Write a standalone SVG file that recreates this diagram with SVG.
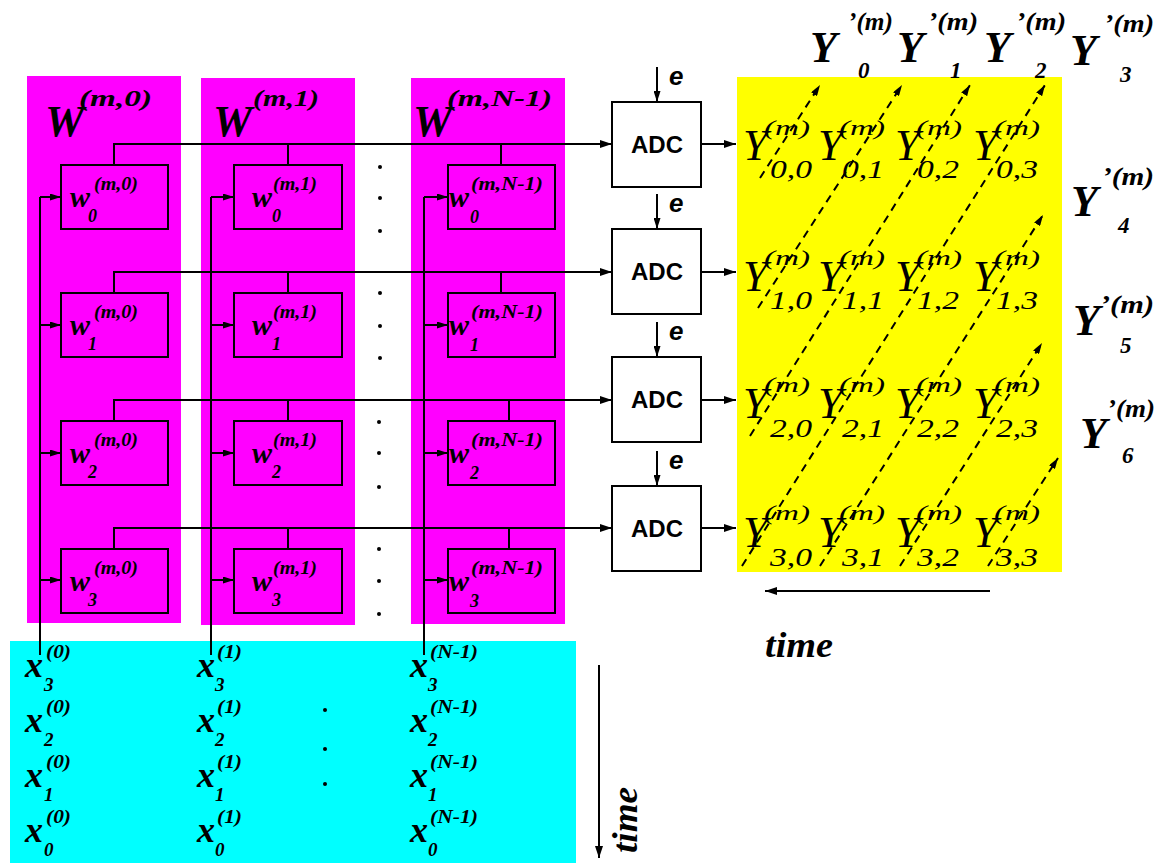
<svg xmlns="http://www.w3.org/2000/svg" width="1161" height="863" viewBox="0 0 1161 863">
<style>
.bi{font-family:"Liberation Serif",serif;font-weight:bold;font-style:italic;fill:#000}
.it{font-family:"Liberation Serif",serif;font-style:italic;fill:#000}
.sb{font-family:"Liberation Sans",sans-serif;font-weight:bold;fill:#000}
.sbi{font-family:"Liberation Sans",sans-serif;font-weight:bold;font-style:italic;fill:#000}
.panel{fill:#ff00ff}
.box{fill:#ff00ff;stroke:#000;stroke-width:2}
.adc{fill:#fff;stroke:#000;stroke-width:2}
.ln{fill:none;stroke:#000;stroke-width:2}
.dash{fill:none;stroke:#000;stroke-width:2;stroke-dasharray:8,6}
.dot{fill:#000}
.yb{font-size:44px}
.ysup{font-size:22px}
.ysub{font-size:26px}
.xb{font-size:36px}
.xsup{font-size:18px}
.xsub{font-size:19px}
.wb{font-size:30px}
.wsup{font-size:19px}
.wsub{font-size:18px}
.ypb{font-size:44px}
.ypsup{font-size:25px}
.ypsub{font-size:23px}
</style>
<defs>
<marker id="ah" markerWidth="12" markerHeight="8" refX="12" refY="4" orient="auto" markerUnits="userSpaceOnUse"><path d="M0,0 L12,4 L0,8 z" fill="#000"/></marker>
<marker id="as" markerWidth="11" markerHeight="7" refX="11" refY="3.5" orient="auto" markerUnits="userSpaceOnUse"><path d="M0,0 L11,3.5 L0,7 z" fill="#000"/></marker>
</defs>
<rect width="1161" height="863" fill="#fff"/>

<g id="backgrounds">
<rect id="panel0" class="panel" x="27" y="76" width="154" height="547"/>
<rect id="panel1" class="panel" x="201" y="78" width="154" height="547"/>
<rect id="panel2" class="panel" x="411" y="78" width="154" height="546"/>
<rect id="inputs-bg" x="10" y="641" width="566" height="222" fill="#00ffff"/>
<rect id="outputs-bg" x="737" y="77" width="325" height="495" fill="#ffff00"/>
</g>

<g id="panel-labels">
<g id="W0"><text class="bi" x="45" y="136" font-size="44">W</text><text class="bi" x="79" y="106" font-size="24" textLength="73" lengthAdjust="spacingAndGlyphs">(m,0)</text></g>
<g id="W1"><text class="bi" x="213" y="136" font-size="44">W</text><text class="bi" x="253" y="106" font-size="24" textLength="66" lengthAdjust="spacingAndGlyphs">(m,1)</text></g>
<g id="W2"><text class="bi" x="413" y="136" font-size="44">W</text><text class="bi" x="447" y="106" font-size="24" textLength="105" lengthAdjust="spacingAndGlyphs">(m,N-1)</text></g>
</g>

<g id="connectors">
<path class="ln" d="M114,165 V144 H612" marker-end="url(#ah)"/>
<path class="ln" d="M288,165 V144 M501,165 V144"/>
<path class="ln" d="M114,293 V272 H612" marker-end="url(#ah)"/>
<path class="ln" d="M288,293 V272 M501,293 V272"/>
<path class="ln" d="M114,421 V400 H612" marker-end="url(#ah)"/>
<path class="ln" d="M288,421 V400 M509,421 V400"/>
<path class="ln" d="M114,549 V528 H612" marker-end="url(#ah)"/>
<path class="ln" d="M288,549 V528 M509,549 V528"/>
<path class="ln" d="M40,655 V197"/>
<path class="ln" d="M211,655 V197"/>
<path class="ln" d="M424,655 V197"/>
<path class="ln" d="M40,197 H61" marker-end="url(#as)"/>
<path class="ln" d="M40,325 H61" marker-end="url(#as)"/>
<path class="ln" d="M40,453 H61" marker-end="url(#as)"/>
<path class="ln" d="M40,580 H61" marker-end="url(#as)"/>
<path class="ln" d="M211,197 H234" marker-end="url(#as)"/>
<path class="ln" d="M211,325 H234" marker-end="url(#as)"/>
<path class="ln" d="M211,453 H234" marker-end="url(#as)"/>
<path class="ln" d="M211,580 H234" marker-end="url(#as)"/>
<path class="ln" d="M424,197 H448" marker-end="url(#as)"/>
<path class="ln" d="M424,325 H448" marker-end="url(#as)"/>
<path class="ln" d="M424,453 H448" marker-end="url(#as)"/>
<path class="ln" d="M424,580 H448" marker-end="url(#as)"/>
<path class="ln" d="M701,144 H736" marker-end="url(#ah)"/>
<path class="ln" d="M701,272 H736" marker-end="url(#ah)"/>
<path class="ln" d="M701,400 H736" marker-end="url(#ah)"/>
<path class="ln" d="M701,528 H736" marker-end="url(#ah)"/>
<path class="ln" d="M657,67 V102" marker-end="url(#as)"/>
<path class="ln" d="M657,194 V229" marker-end="url(#as)"/>
<path class="ln" d="M657,322 V357" marker-end="url(#as)"/>
<path class="ln" d="M657,451 V486" marker-end="url(#as)"/>
<path class="dash" d="M760,178 L820,85" marker-end="url(#as)"/>
<path class="dash" d="M758,308 L902,85" marker-end="url(#as)"/>
<path class="dash" d="M750,436 L970,85" marker-end="url(#as)"/>
<path class="dash" d="M742,566 L1045,85" marker-end="url(#as)"/>
<path class="dash" d="M820,566 L1043,215" marker-end="url(#as)"/>
<path class="dash" d="M900,566 L1042,343" marker-end="url(#as)"/>
<path class="dash" d="M988,566 L1058,458" marker-end="url(#as)"/>
<path class="ln" d="M990,591 H765" marker-end="url(#ah)"/>
<path class="ln" d="M599,665 V858" marker-end="url(#ah)"/>
</g>

<g id="weights">
<g id="w-0-0"><rect class="box" x="61" y="165" width="107" height="64"/><text class="bi wb" x="70" y="207">w</text><text class="bi wsup" x="94" y="190" textLength="44" lengthAdjust="spacingAndGlyphs">(m,0)</text><text class="bi wsub" x="88" y="222">0</text></g>
<g id="w-0-1"><rect class="box" x="61" y="293" width="107" height="64"/><text class="bi wb" x="70" y="335">w</text><text class="bi wsup" x="94" y="318" textLength="44" lengthAdjust="spacingAndGlyphs">(m,0)</text><text class="bi wsub" x="88" y="350">1</text></g>
<g id="w-0-2"><rect class="box" x="61" y="421" width="107" height="64"/><text class="bi wb" x="70" y="463">w</text><text class="bi wsup" x="94" y="446" textLength="44" lengthAdjust="spacingAndGlyphs">(m,0)</text><text class="bi wsub" x="88" y="478">2</text></g>
<g id="w-0-3"><rect class="box" x="61" y="549" width="107" height="64"/><text class="bi wb" x="70" y="591">w</text><text class="bi wsup" x="94" y="574" textLength="44" lengthAdjust="spacingAndGlyphs">(m,0)</text><text class="bi wsub" x="88" y="606">3</text></g>

<g id="w-1-0"><rect class="box" x="234" y="165" width="108" height="64"/><text class="bi wb" x="252" y="207">w</text><text class="bi wsup" x="273" y="190" textLength="44" lengthAdjust="spacingAndGlyphs">(m,1)</text><text class="bi wsub" x="272" y="222">0</text></g>
<g id="w-1-1"><rect class="box" x="234" y="293" width="108" height="64"/><text class="bi wb" x="252" y="335">w</text><text class="bi wsup" x="273" y="318" textLength="44" lengthAdjust="spacingAndGlyphs">(m,1)</text><text class="bi wsub" x="272" y="350">1</text></g>
<g id="w-1-2"><rect class="box" x="234" y="421" width="108" height="64"/><text class="bi wb" x="252" y="463">w</text><text class="bi wsup" x="273" y="446" textLength="44" lengthAdjust="spacingAndGlyphs">(m,1)</text><text class="bi wsub" x="272" y="478">2</text></g>
<g id="w-1-3"><rect class="box" x="234" y="549" width="108" height="64"/><text class="bi wb" x="252" y="591">w</text><text class="bi wsup" x="273" y="574" textLength="44" lengthAdjust="spacingAndGlyphs">(m,1)</text><text class="bi wsub" x="272" y="606">3</text></g>

<g id="w-2-0"><rect class="box" x="448" y="165" width="107" height="64"/><text class="bi wb" x="449" y="207">w</text><text class="bi wsup" x="471" y="190" textLength="72" lengthAdjust="spacingAndGlyphs">(m,N-1)</text><text class="bi wsub" x="470" y="223">0</text></g>
<g id="w-2-1"><rect class="box" x="448" y="293" width="107" height="64"/><text class="bi wb" x="449" y="335">w</text><text class="bi wsup" x="471" y="318" textLength="72" lengthAdjust="spacingAndGlyphs">(m,N-1)</text><text class="bi wsub" x="470" y="351">1</text></g>
<g id="w-2-2"><rect class="box" x="448" y="421" width="107" height="64"/><text class="bi wb" x="449" y="463">w</text><text class="bi wsup" x="471" y="446" textLength="72" lengthAdjust="spacingAndGlyphs">(m,N-1)</text><text class="bi wsub" x="470" y="479">2</text></g>
<g id="w-2-3"><rect class="box" x="448" y="549" width="107" height="64"/><text class="bi wb" x="449" y="591">w</text><text class="bi wsup" x="471" y="574" textLength="72" lengthAdjust="spacingAndGlyphs">(m,N-1)</text><text class="bi wsub" x="470" y="607">3</text></g>
</g>

<g id="ellipsis-dots">
<circle class="dot" cx="380" cy="167" r="2"/><circle class="dot" cx="380" cy="198" r="2"/><circle class="dot" cx="380" cy="231" r="2"/>
<circle class="dot" cx="380" cy="293" r="2"/><circle class="dot" cx="380" cy="326" r="2"/><circle class="dot" cx="380" cy="358" r="2"/>
<circle class="dot" cx="379" cy="422" r="2"/><circle class="dot" cx="379" cy="453" r="2"/><circle class="dot" cx="379" cy="487" r="2"/>
<circle class="dot" cx="379" cy="549" r="2"/><circle class="dot" cx="379" cy="581" r="2"/><circle class="dot" cx="379" cy="614" r="2"/>
<circle class="dot" cx="325" cy="710" r="2"/><circle class="dot" cx="325" cy="749" r="2"/><circle class="dot" cx="325" cy="784" r="2"/>
</g>

<g id="adcs">
<g id="adc0"><rect class="adc" x="612" y="102" width="89" height="85"/><text class="sb" x="657" y="153" font-size="24" text-anchor="middle">ADC</text></g>
<g id="adc1"><rect class="adc" x="612" y="229" width="89" height="85"/><text class="sb" x="657" y="280" font-size="24" text-anchor="middle">ADC</text></g>
<g id="adc2"><rect class="adc" x="612" y="357" width="89" height="85"/><text class="sb" x="657" y="408" font-size="24" text-anchor="middle">ADC</text></g>
<g id="adc3"><rect class="adc" x="612" y="486" width="89" height="85"/><text class="sb" x="657" y="537" font-size="24" text-anchor="middle">ADC</text></g>
<text class="sbi" x="669" y="85" font-size="26">e</text>
<text class="sbi" x="669" y="212" font-size="26">e</text>
<text class="sbi" x="669" y="340" font-size="26">e</text>
<text class="sbi" x="669" y="469" font-size="26">e</text>
</g>

<g id="partial-outputs">
<g id="Y00"><text class="it yb" x="743" y="160">Y</text><text class="it ysup" x="764" y="135" textLength="46" lengthAdjust="spacingAndGlyphs">(m)</text><text class="it ysub" x="770" y="178" textLength="42" lengthAdjust="spacingAndGlyphs">0,0</text></g>
<g id="Y01"><text class="it yb" x="818" y="160">Y</text><text class="it ysup" x="839" y="135" textLength="46" lengthAdjust="spacingAndGlyphs">(m)</text><text class="it ysub" x="842" y="178" textLength="42" lengthAdjust="spacingAndGlyphs">0,1</text></g>
<g id="Y02"><text class="it yb" x="895" y="160">Y</text><text class="it ysup" x="916" y="135" textLength="46" lengthAdjust="spacingAndGlyphs">(m)</text><text class="it ysub" x="917" y="178" textLength="42" lengthAdjust="spacingAndGlyphs">0,2</text></g>
<g id="Y03"><text class="it yb" x="973" y="160">Y</text><text class="it ysup" x="994" y="135" textLength="46" lengthAdjust="spacingAndGlyphs">(m)</text><text class="it ysub" x="996" y="178" textLength="42" lengthAdjust="spacingAndGlyphs">0,3</text></g>

<g id="Y10"><text class="it yb" x="743" y="291">Y</text><text class="it ysup" x="764" y="265" textLength="46" lengthAdjust="spacingAndGlyphs">(m)</text><text class="it ysub" x="770" y="309" textLength="42" lengthAdjust="spacingAndGlyphs">1,0</text></g>
<g id="Y11"><text class="it yb" x="818" y="291">Y</text><text class="it ysup" x="839" y="265" textLength="46" lengthAdjust="spacingAndGlyphs">(m)</text><text class="it ysub" x="842" y="309" textLength="42" lengthAdjust="spacingAndGlyphs">1,1</text></g>
<g id="Y12"><text class="it yb" x="895" y="291">Y</text><text class="it ysup" x="916" y="265" textLength="46" lengthAdjust="spacingAndGlyphs">(m)</text><text class="it ysub" x="917" y="309" textLength="42" lengthAdjust="spacingAndGlyphs">1,2</text></g>
<g id="Y13"><text class="it yb" x="973" y="291">Y</text><text class="it ysup" x="994" y="265" textLength="46" lengthAdjust="spacingAndGlyphs">(m)</text><text class="it ysub" x="996" y="309" textLength="42" lengthAdjust="spacingAndGlyphs">1,3</text></g>

<g id="Y20"><text class="it yb" x="743" y="418">Y</text><text class="it ysup" x="764" y="392" textLength="46" lengthAdjust="spacingAndGlyphs">(m)</text><text class="it ysub" x="770" y="437" textLength="42" lengthAdjust="spacingAndGlyphs">2,0</text></g>
<g id="Y21"><text class="it yb" x="818" y="418">Y</text><text class="it ysup" x="839" y="392" textLength="46" lengthAdjust="spacingAndGlyphs">(m)</text><text class="it ysub" x="842" y="437" textLength="42" lengthAdjust="spacingAndGlyphs">2,1</text></g>
<g id="Y22"><text class="it yb" x="895" y="418">Y</text><text class="it ysup" x="916" y="392" textLength="46" lengthAdjust="spacingAndGlyphs">(m)</text><text class="it ysub" x="917" y="437" textLength="42" lengthAdjust="spacingAndGlyphs">2,2</text></g>
<g id="Y23"><text class="it yb" x="973" y="418">Y</text><text class="it ysup" x="994" y="392" textLength="46" lengthAdjust="spacingAndGlyphs">(m)</text><text class="it ysub" x="996" y="437" textLength="42" lengthAdjust="spacingAndGlyphs">2,3</text></g>

<g id="Y30"><text class="it yb" x="743" y="547">Y</text><text class="it ysup" x="764" y="520" textLength="46" lengthAdjust="spacingAndGlyphs">(m)</text><text class="it ysub" x="770" y="566" textLength="42" lengthAdjust="spacingAndGlyphs">3,0</text></g>
<g id="Y31"><text class="it yb" x="818" y="547">Y</text><text class="it ysup" x="839" y="520" textLength="46" lengthAdjust="spacingAndGlyphs">(m)</text><text class="it ysub" x="842" y="566" textLength="42" lengthAdjust="spacingAndGlyphs">3,1</text></g>
<g id="Y32"><text class="it yb" x="895" y="547">Y</text><text class="it ysup" x="916" y="520" textLength="46" lengthAdjust="spacingAndGlyphs">(m)</text><text class="it ysub" x="917" y="566" textLength="42" lengthAdjust="spacingAndGlyphs">3,2</text></g>
<g id="Y33"><text class="it yb" x="973" y="547">Y</text><text class="it ysup" x="994" y="520" textLength="46" lengthAdjust="spacingAndGlyphs">(m)</text><text class="it ysub" x="996" y="566" textLength="42" lengthAdjust="spacingAndGlyphs">3,3</text></g>
</g>

<g id="final-outputs">
<g id="Yp0"><text class="bi ypb" x="810" y="62">Y</text><text class="bi ypsup" x="848" y="30" textLength="45" lengthAdjust="spacingAndGlyphs">’(m)</text><text class="bi ypsub" x="858" y="78">0</text></g>
<g id="Yp1"><text class="bi ypb" x="897" y="62">Y</text><text class="bi ypsup" x="928" y="30" textLength="50" lengthAdjust="spacingAndGlyphs">’(m)</text><text class="bi ypsub" x="950" y="78">1</text></g>
<g id="Yp2"><text class="bi ypb" x="984" y="62">Y</text><text class="bi ypsup" x="1016" y="30" textLength="50" lengthAdjust="spacingAndGlyphs">’(m)</text><text class="bi ypsub" x="1035" y="78">2</text></g>
<g id="Yp3"><text class="bi ypb" x="1070" y="65">Y</text><text class="bi ypsup" x="1104" y="32" textLength="50" lengthAdjust="spacingAndGlyphs">’(m)</text><text class="bi ypsub" x="1120" y="82">3</text></g>
<g id="Yp4"><text class="bi ypb" x="1071" y="216">Y</text><text class="bi ypsup" x="1102" y="185" textLength="52" lengthAdjust="spacingAndGlyphs">’(m)</text><text class="bi ypsub" x="1118" y="233">4</text></g>
<g id="Yp5"><text class="bi ypb" x="1073" y="335">Y</text><text class="bi ypsup" x="1100" y="313" textLength="54" lengthAdjust="spacingAndGlyphs">’(m)</text><text class="bi ypsub" x="1120" y="353">5</text></g>
<g id="Yp6"><text class="bi ypb" x="1080" y="448">Y</text><text class="bi ypsup" x="1107" y="417" textLength="48" lengthAdjust="spacingAndGlyphs">’(m)</text><text class="bi ypsub" x="1122" y="463">6</text></g>
</g>

<g id="inputs">
<g id="x-0">
<text class="bi xb" x="25" y="677">x</text><text class="bi xsup" x="46" y="658" textLength="25" lengthAdjust="spacingAndGlyphs">(0)</text><text class="bi xsub" x="44" y="691">3</text>
<text class="bi xb" x="25" y="732">x</text><text class="bi xsup" x="46" y="713" textLength="25" lengthAdjust="spacingAndGlyphs">(0)</text><text class="bi xsub" x="44" y="746">2</text>
<text class="bi xb" x="25" y="787">x</text><text class="bi xsup" x="46" y="768" textLength="25" lengthAdjust="spacingAndGlyphs">(0)</text><text class="bi xsub" x="44" y="801">1</text>
<text class="bi xb" x="25" y="842">x</text><text class="bi xsup" x="46" y="823" textLength="25" lengthAdjust="spacingAndGlyphs">(0)</text><text class="bi xsub" x="44" y="856">0</text>
</g>
<g id="x-1">
<text class="bi xb" x="197" y="677">x</text><text class="bi xsup" x="217" y="658" textLength="25" lengthAdjust="spacingAndGlyphs">(1)</text><text class="bi xsub" x="215" y="691">3</text>
<text class="bi xb" x="197" y="732">x</text><text class="bi xsup" x="217" y="713" textLength="25" lengthAdjust="spacingAndGlyphs">(1)</text><text class="bi xsub" x="215" y="746">2</text>
<text class="bi xb" x="197" y="787">x</text><text class="bi xsup" x="217" y="768" textLength="25" lengthAdjust="spacingAndGlyphs">(1)</text><text class="bi xsub" x="215" y="801">1</text>
<text class="bi xb" x="197" y="842">x</text><text class="bi xsup" x="217" y="823" textLength="25" lengthAdjust="spacingAndGlyphs">(1)</text><text class="bi xsub" x="215" y="856">0</text>
</g>
<g id="x-2">
<text class="bi xb" x="410" y="677">x</text><text class="bi xsup" x="430" y="658" textLength="48" lengthAdjust="spacingAndGlyphs">(N-1)</text><text class="bi xsub" x="428" y="691">3</text>
<text class="bi xb" x="410" y="732">x</text><text class="bi xsup" x="430" y="713" textLength="48" lengthAdjust="spacingAndGlyphs">(N-1)</text><text class="bi xsub" x="428" y="746">2</text>
<text class="bi xb" x="410" y="787">x</text><text class="bi xsup" x="430" y="768" textLength="48" lengthAdjust="spacingAndGlyphs">(N-1)</text><text class="bi xsub" x="428" y="801">1</text>
<text class="bi xb" x="410" y="842">x</text><text class="bi xsup" x="430" y="823" textLength="48" lengthAdjust="spacingAndGlyphs">(N-1)</text><text class="bi xsub" x="428" y="856">0</text>
</g>
</g>

<g id="time-labels">
<text class="bi" x="765" y="657" font-size="36" textLength="68" lengthAdjust="spacingAndGlyphs">time</text>
<text class="bi" transform="translate(637,853) rotate(-90)" x="0" y="0" font-size="36" textLength="66" lengthAdjust="spacingAndGlyphs">time</text>
</g>
</svg>
